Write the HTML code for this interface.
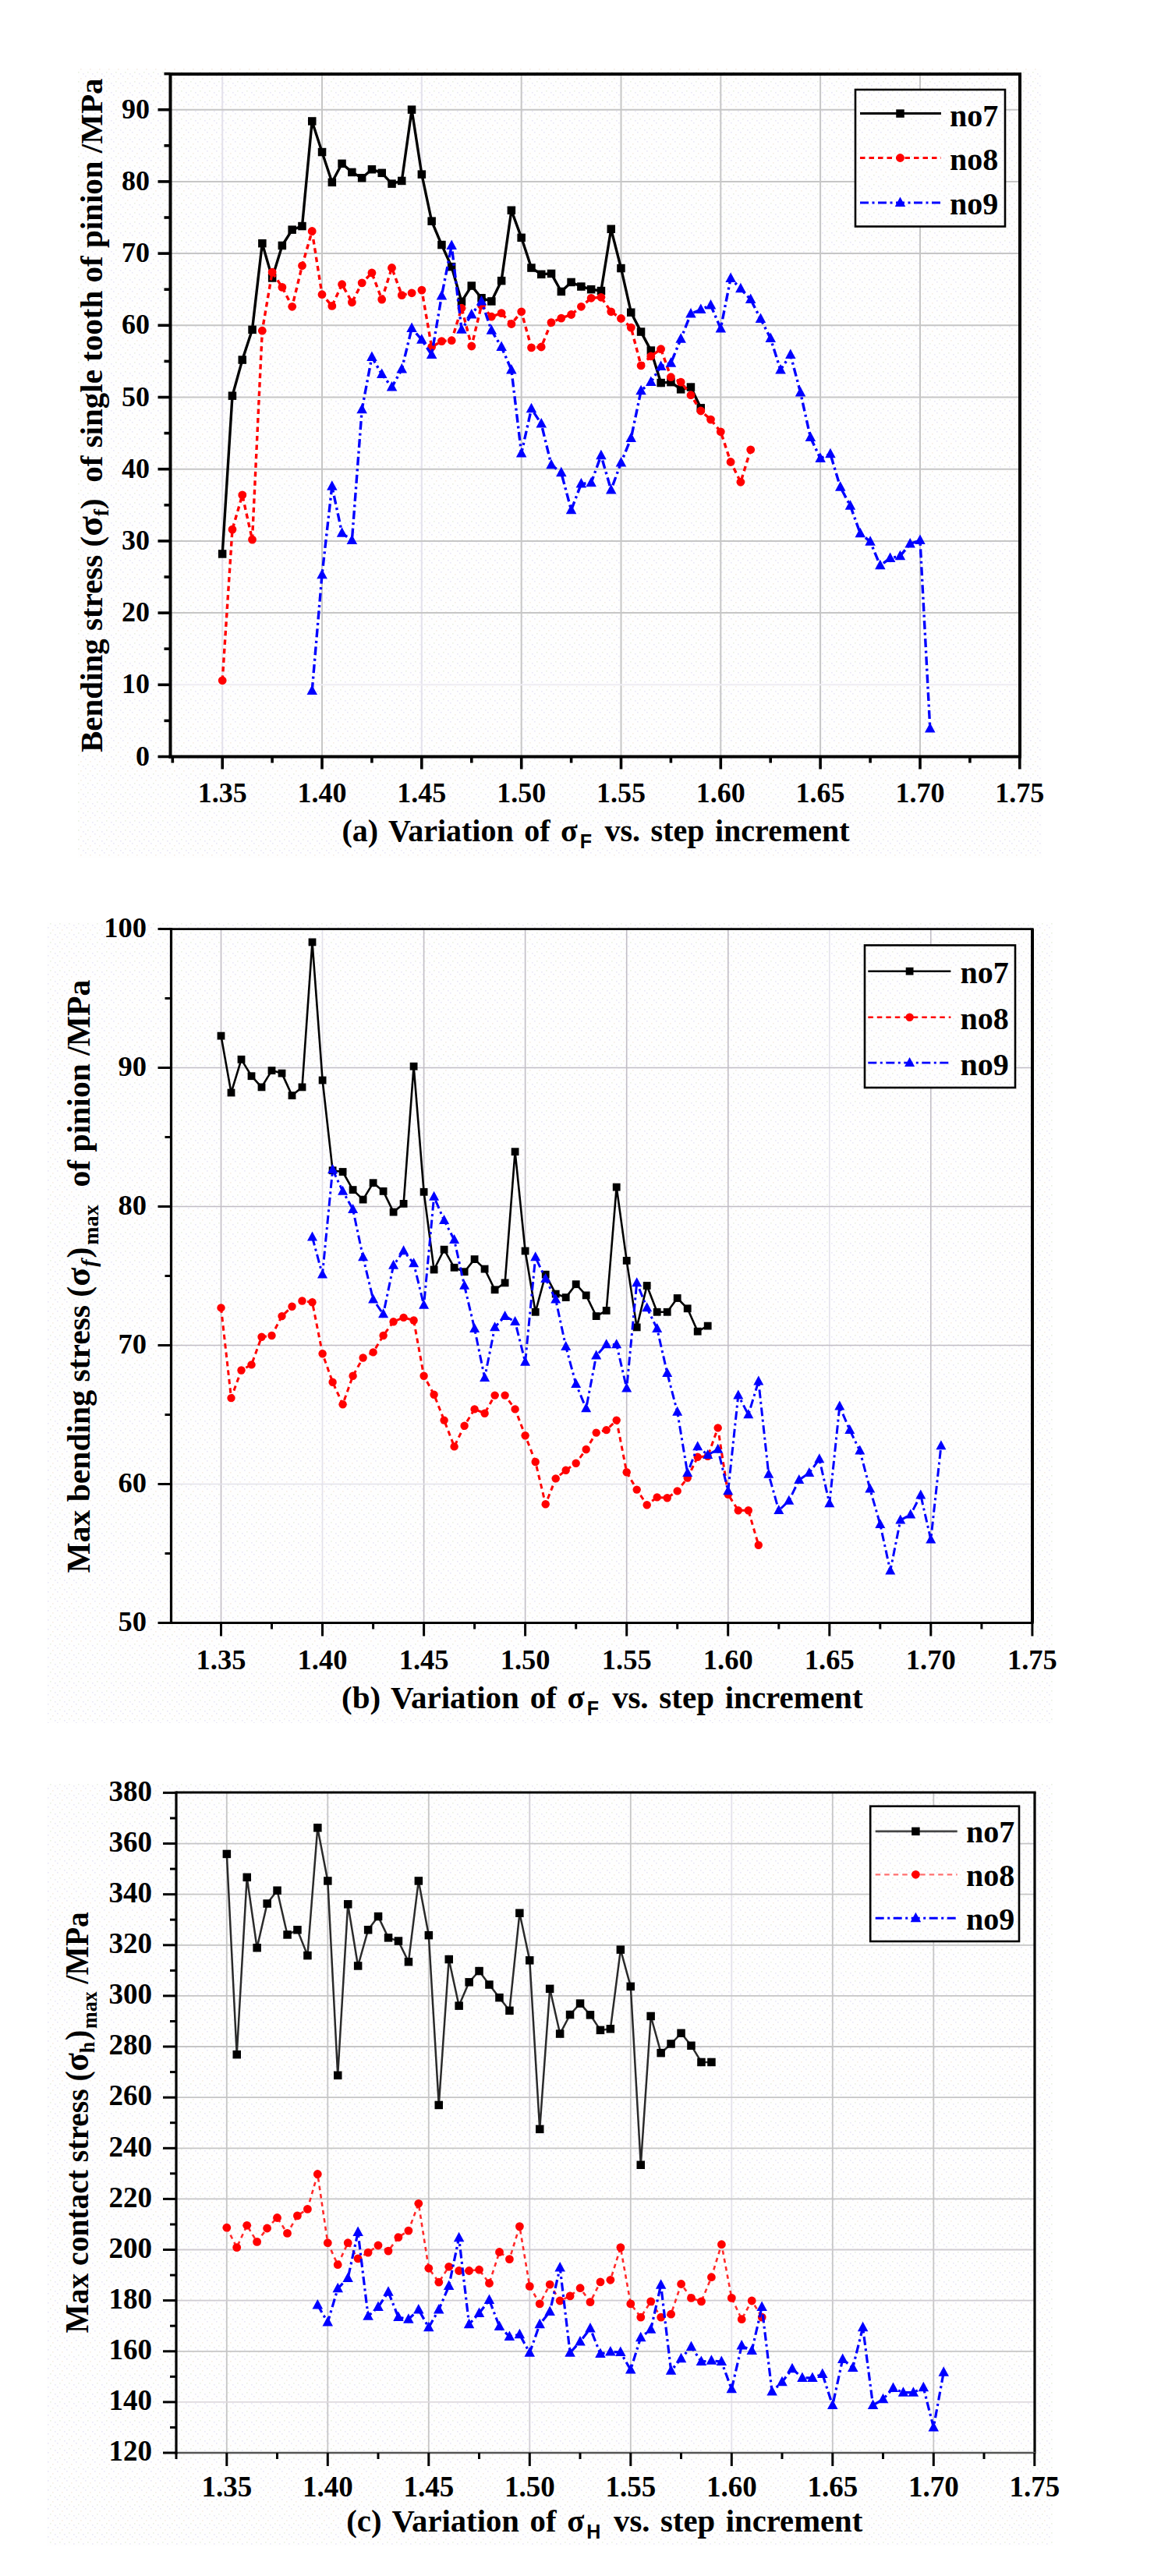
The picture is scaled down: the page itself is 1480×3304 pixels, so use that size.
<!DOCTYPE html>
<html><head><meta charset="utf-8"><title>Variation of stress vs. step increment</title>
<style>html,body{margin:0;padding:0;background:#fff}svg{display:block}text{fill:#000}</style></head>
<body><svg width="1480" height="3304" viewBox="0 0 1480 3304">
<defs><pattern id="dots" width="12" height="12" patternUnits="userSpaceOnUse"><rect width="12" height="12" fill="#fefefe"/><rect x="1" y="1" width="1.6" height="1.6" fill="#eae7f6"/><rect x="7" y="4" width="1.6" height="1.6" fill="#f6ece4"/><rect x="4" y="8" width="1.6" height="1.6" fill="#eaf0e2"/><rect x="10" y="10" width="1.6" height="1.6" fill="#eae7f6"/></pattern></defs>
<rect width="1480" height="3304" fill="#fff"/>
<rect x="100" y="88" width="1236" height="1012" fill="url(#dots)"/>
<line x1="285.2" y1="95" x2="285.2" y2="970.5" stroke="#e4e2ec" stroke-width="2"/>
<line x1="413" y1="95" x2="413" y2="970.5" stroke="#c6c6c6" stroke-width="2"/>
<line x1="540.8" y1="95" x2="540.8" y2="970.5" stroke="#e4e2ec" stroke-width="2"/>
<line x1="668.7" y1="95" x2="668.7" y2="970.5" stroke="#c6c6c6" stroke-width="2"/>
<line x1="796.5" y1="95" x2="796.5" y2="970.5" stroke="#c6c6c6" stroke-width="2"/>
<line x1="924.3" y1="95" x2="924.3" y2="970.5" stroke="#c6c6c6" stroke-width="2"/>
<line x1="1052.1" y1="95" x2="1052.1" y2="970.5" stroke="#c6c6c6" stroke-width="2"/>
<line x1="1180" y1="95" x2="1180" y2="970.5" stroke="#c6c6c6" stroke-width="2"/>
<line x1="218.5" y1="878.3" x2="1308" y2="878.3" stroke="#efedf3" stroke-width="2"/>
<line x1="218.5" y1="786.1" x2="1308" y2="786.1" stroke="#c6c6c6" stroke-width="2"/>
<line x1="218.5" y1="693.9" x2="1308" y2="693.9" stroke="#c6c6c6" stroke-width="2"/>
<line x1="218.5" y1="601.7" x2="1308" y2="601.7" stroke="#c6c6c6" stroke-width="2"/>
<line x1="218.5" y1="509.5" x2="1308" y2="509.5" stroke="#c6c6c6" stroke-width="2"/>
<line x1="218.5" y1="417.3" x2="1308" y2="417.3" stroke="#c6c6c6" stroke-width="2"/>
<line x1="218.5" y1="325.1" x2="1308" y2="325.1" stroke="#c6c6c6" stroke-width="2"/>
<line x1="218.5" y1="232.9" x2="1308" y2="232.9" stroke="#c6c6c6" stroke-width="2"/>
<line x1="218.5" y1="140.7" x2="1308" y2="140.7" stroke="#c6c6c6" stroke-width="2"/>
<polyline fill="none" stroke-linejoin="round" points="285.2,710.5 298,507.7 310.8,461.6 323.5,422.8 336.3,312.2 349.1,356.4 361.9,315 374.7,294.7 387.5,290.1 400.2,155.5 413,195.1 425.8,233.8 438.6,209.8 451.4,220.9 464.2,228.3 476.9,217.2 489.7,221.8 502.5,235.7 515.3,232 528.1,140.7 540.9,223.7 553.6,283.6 566.4,314 579.2,342.2 592,386.9 604.8,366.6 617.5,382.3 630.3,386.4 643.1,360.1 655.9,269.8 668.7,304.8 681.5,343.5 694.2,351.8 707,350.9 719.8,374 732.6,362 745.4,367.5 758.2,371.2 770.9,373 783.7,293.8 796.5,344 809.3,400.7 822.1,425.6 834.8,449.6 847.6,491.1 860.4,490.1 873.2,499.4 886,496.6 898.8,523.3" stroke="#000" stroke-width="3.4"/>
<rect x="279.9" y="705.2" width="10.5" height="10.5" fill="#000"/>
<rect x="292.7" y="502.4" width="10.5" height="10.5" fill="#000"/>
<rect x="305.5" y="456.3" width="10.5" height="10.5" fill="#000"/>
<rect x="318.3" y="417.6" width="10.5" height="10.5" fill="#000"/>
<rect x="331.1" y="306.9" width="10.5" height="10.5" fill="#000"/>
<rect x="343.9" y="351.2" width="10.5" height="10.5" fill="#000"/>
<rect x="356.6" y="309.7" width="10.5" height="10.5" fill="#000"/>
<rect x="369.4" y="289.4" width="10.5" height="10.5" fill="#000"/>
<rect x="382.2" y="284.8" width="10.5" height="10.5" fill="#000"/>
<rect x="395" y="150.2" width="10.5" height="10.5" fill="#000"/>
<rect x="407.8" y="189.8" width="10.5" height="10.5" fill="#000"/>
<rect x="420.6" y="228.6" width="10.5" height="10.5" fill="#000"/>
<rect x="433.3" y="204.6" width="10.5" height="10.5" fill="#000"/>
<rect x="446.1" y="215.7" width="10.5" height="10.5" fill="#000"/>
<rect x="458.9" y="223" width="10.5" height="10.5" fill="#000"/>
<rect x="471.7" y="212" width="10.5" height="10.5" fill="#000"/>
<rect x="484.5" y="216.6" width="10.5" height="10.5" fill="#000"/>
<rect x="497.3" y="230.4" width="10.5" height="10.5" fill="#000"/>
<rect x="510" y="226.7" width="10.5" height="10.5" fill="#000"/>
<rect x="522.8" y="135.4" width="10.5" height="10.5" fill="#000"/>
<rect x="535.6" y="218.4" width="10.5" height="10.5" fill="#000"/>
<rect x="548.4" y="278.4" width="10.5" height="10.5" fill="#000"/>
<rect x="561.2" y="308.8" width="10.5" height="10.5" fill="#000"/>
<rect x="573.9" y="336.9" width="10.5" height="10.5" fill="#000"/>
<rect x="586.7" y="381.6" width="10.5" height="10.5" fill="#000"/>
<rect x="599.5" y="361.3" width="10.5" height="10.5" fill="#000"/>
<rect x="612.3" y="377" width="10.5" height="10.5" fill="#000"/>
<rect x="625.1" y="381.2" width="10.5" height="10.5" fill="#000"/>
<rect x="637.9" y="354.9" width="10.5" height="10.5" fill="#000"/>
<rect x="650.6" y="264.5" width="10.5" height="10.5" fill="#000"/>
<rect x="663.4" y="299.6" width="10.5" height="10.5" fill="#000"/>
<rect x="676.2" y="338.3" width="10.5" height="10.5" fill="#000"/>
<rect x="689" y="346.6" width="10.5" height="10.5" fill="#000"/>
<rect x="701.8" y="345.7" width="10.5" height="10.5" fill="#000"/>
<rect x="714.6" y="368.7" width="10.5" height="10.5" fill="#000"/>
<rect x="727.3" y="356.7" width="10.5" height="10.5" fill="#000"/>
<rect x="740.1" y="362.3" width="10.5" height="10.5" fill="#000"/>
<rect x="752.9" y="365.9" width="10.5" height="10.5" fill="#000"/>
<rect x="765.7" y="367.8" width="10.5" height="10.5" fill="#000"/>
<rect x="778.5" y="288.5" width="10.5" height="10.5" fill="#000"/>
<rect x="791.2" y="338.8" width="10.5" height="10.5" fill="#000"/>
<rect x="804" y="395.5" width="10.5" height="10.5" fill="#000"/>
<rect x="816.8" y="420.3" width="10.5" height="10.5" fill="#000"/>
<rect x="829.6" y="444.3" width="10.5" height="10.5" fill="#000"/>
<rect x="842.4" y="485.8" width="10.5" height="10.5" fill="#000"/>
<rect x="855.2" y="484.9" width="10.5" height="10.5" fill="#000"/>
<rect x="867.9" y="494.1" width="10.5" height="10.5" fill="#000"/>
<rect x="880.7" y="491.3" width="10.5" height="10.5" fill="#000"/>
<rect x="893.5" y="518.1" width="10.5" height="10.5" fill="#000"/>
<polyline fill="none" stroke-linejoin="round" points="285.2,872.8 298,679.1 310.8,634.9 323.5,692.1 336.3,424.2 349.1,349.1 361.9,368.4 374.7,393.3 387.5,340.8 400.2,296.5 413,377.7 425.8,392.4 438.6,364.7 451.4,387.8 464.2,362.9 476.9,350 489.7,384.1 502.5,343.5 515.3,378.6 528.1,375.8 540.9,372.1 553.6,445 566.4,437.6 579.2,436.7 592,395.2 604.8,444 617.5,391.5 630.3,406.2 643.1,401.6 655.9,415.5 668.7,399.8 681.5,445.9 694.2,445 707,413.6 719.8,408.1 732.6,403.5 745.4,393.3 758.2,382.3 770.9,381.3 783.7,399.8 796.5,408.5 809.3,420.1 822.1,468.9 834.8,456.9 847.6,447.7 860.4,483.7 873.2,490.1 886,506.7 898.8,527 911.5,538.1 924.3,553.8 937.1,592.5 949.9,618.3 962.7,576.8" stroke="#f00" stroke-width="3.4" stroke-dasharray="6.5 5"/>
<circle cx="285.2" cy="872.8" r="5.4" fill="#f00"/>
<circle cx="298" cy="679.1" r="5.4" fill="#f00"/>
<circle cx="310.8" cy="634.9" r="5.4" fill="#f00"/>
<circle cx="323.5" cy="692.1" r="5.4" fill="#f00"/>
<circle cx="336.3" cy="424.2" r="5.4" fill="#f00"/>
<circle cx="349.1" cy="349.1" r="5.4" fill="#f00"/>
<circle cx="361.9" cy="368.4" r="5.4" fill="#f00"/>
<circle cx="374.7" cy="393.3" r="5.4" fill="#f00"/>
<circle cx="387.5" cy="340.8" r="5.4" fill="#f00"/>
<circle cx="400.2" cy="296.5" r="5.4" fill="#f00"/>
<circle cx="413" cy="377.7" r="5.4" fill="#f00"/>
<circle cx="425.8" cy="392.4" r="5.4" fill="#f00"/>
<circle cx="438.6" cy="364.7" r="5.4" fill="#f00"/>
<circle cx="451.4" cy="387.8" r="5.4" fill="#f00"/>
<circle cx="464.2" cy="362.9" r="5.4" fill="#f00"/>
<circle cx="476.9" cy="350" r="5.4" fill="#f00"/>
<circle cx="489.7" cy="384.1" r="5.4" fill="#f00"/>
<circle cx="502.5" cy="343.5" r="5.4" fill="#f00"/>
<circle cx="515.3" cy="378.6" r="5.4" fill="#f00"/>
<circle cx="528.1" cy="375.8" r="5.4" fill="#f00"/>
<circle cx="540.9" cy="372.1" r="5.4" fill="#f00"/>
<circle cx="553.6" cy="445" r="5.4" fill="#f00"/>
<circle cx="566.4" cy="437.6" r="5.4" fill="#f00"/>
<circle cx="579.2" cy="436.7" r="5.4" fill="#f00"/>
<circle cx="592" cy="395.2" r="5.4" fill="#f00"/>
<circle cx="604.8" cy="444" r="5.4" fill="#f00"/>
<circle cx="617.5" cy="391.5" r="5.4" fill="#f00"/>
<circle cx="630.3" cy="406.2" r="5.4" fill="#f00"/>
<circle cx="643.1" cy="401.6" r="5.4" fill="#f00"/>
<circle cx="655.9" cy="415.5" r="5.4" fill="#f00"/>
<circle cx="668.7" cy="399.8" r="5.4" fill="#f00"/>
<circle cx="681.5" cy="445.9" r="5.4" fill="#f00"/>
<circle cx="694.2" cy="445" r="5.4" fill="#f00"/>
<circle cx="707" cy="413.6" r="5.4" fill="#f00"/>
<circle cx="719.8" cy="408.1" r="5.4" fill="#f00"/>
<circle cx="732.6" cy="403.5" r="5.4" fill="#f00"/>
<circle cx="745.4" cy="393.3" r="5.4" fill="#f00"/>
<circle cx="758.2" cy="382.3" r="5.4" fill="#f00"/>
<circle cx="770.9" cy="381.3" r="5.4" fill="#f00"/>
<circle cx="783.7" cy="399.8" r="5.4" fill="#f00"/>
<circle cx="796.5" cy="408.5" r="5.4" fill="#f00"/>
<circle cx="809.3" cy="420.1" r="5.4" fill="#f00"/>
<circle cx="822.1" cy="468.9" r="5.4" fill="#f00"/>
<circle cx="834.8" cy="456.9" r="5.4" fill="#f00"/>
<circle cx="847.6" cy="447.7" r="5.4" fill="#f00"/>
<circle cx="860.4" cy="483.7" r="5.4" fill="#f00"/>
<circle cx="873.2" cy="490.1" r="5.4" fill="#f00"/>
<circle cx="886" cy="506.7" r="5.4" fill="#f00"/>
<circle cx="898.8" cy="527" r="5.4" fill="#f00"/>
<circle cx="911.5" cy="538.1" r="5.4" fill="#f00"/>
<circle cx="924.3" cy="553.8" r="5.4" fill="#f00"/>
<circle cx="937.1" cy="592.5" r="5.4" fill="#f00"/>
<circle cx="949.9" cy="618.3" r="5.4" fill="#f00"/>
<circle cx="962.7" cy="576.8" r="5.4" fill="#f00"/>
<polyline fill="none" stroke-linejoin="round" points="400.2,886.1 413,737.2 425.8,623.8 438.6,683.8 451.4,693 464.2,525.2 476.9,457.9 489.7,480 502.5,496.6 515.3,473.5 528.1,421 540.8,435.7 553.6,455.1 566.4,379.5 579.2,315 592,422.8 604.8,403.5 617.5,386.4 630.3,423.8 643.1,445 655.9,474.5 668.7,581.4 681.5,524.3 694.2,543.6 707,596.2 719.8,606.3 732.6,654.3 745.4,620.6 758.2,619.2 770.9,584.2 783.7,628.4 796.5,593.4 809.3,562.1 822.1,501.2 834.8,490.1 847.6,469.9 860.4,465.7 873.2,434.8 886,402.5 898.8,397 911.5,391.5 924.3,421.4 937.1,356.9 949.9,370.3 962.7,384.1 975.5,409 988.2,433.9 1001,474.5 1013.8,455.1 1026.6,503.5 1039.4,561.1 1052.1,587.9 1064.9,582.3 1077.7,624.8 1090.5,648.7 1103.3,684.2 1116.1,694.8 1128.8,725.2 1141.6,716 1154.4,713.3 1167.2,697.6 1180,693 1192.8,934.5" stroke="#00f" stroke-width="3.4" stroke-dasharray="11 4.5 3 4.5"/>
<path d="M393.5,891.1L407,891.1L400.2,878.6Z" fill="#00f"/>
<path d="M406.3,742.2L419.8,742.2L413,729.7Z" fill="#00f"/>
<path d="M419.1,628.8L432.6,628.8L425.8,616.3Z" fill="#00f"/>
<path d="M431.8,688.8L445.3,688.8L438.6,676.3Z" fill="#00f"/>
<path d="M444.6,698L458.1,698L451.4,685.5Z" fill="#00f"/>
<path d="M457.4,530.2L470.9,530.2L464.2,517.7Z" fill="#00f"/>
<path d="M470.2,462.9L483.7,462.9L476.9,450.4Z" fill="#00f"/>
<path d="M483,485L496.5,485L489.7,472.5Z" fill="#00f"/>
<path d="M495.8,501.6L509.3,501.6L502.5,489.1Z" fill="#00f"/>
<path d="M508.5,478.5L522,478.5L515.3,466Z" fill="#00f"/>
<path d="M521.3,426L534.8,426L528.1,413.5Z" fill="#00f"/>
<path d="M534.1,440.7L547.6,440.7L540.8,428.2Z" fill="#00f"/>
<path d="M546.9,460.1L560.4,460.1L553.6,447.6Z" fill="#00f"/>
<path d="M559.7,384.5L573.2,384.5L566.4,372Z" fill="#00f"/>
<path d="M572.4,320L585.9,320L579.2,307.5Z" fill="#00f"/>
<path d="M585.2,427.8L598.7,427.8L592,415.3Z" fill="#00f"/>
<path d="M598,408.5L611.5,408.5L604.8,396Z" fill="#00f"/>
<path d="M610.8,391.4L624.3,391.4L617.5,378.9Z" fill="#00f"/>
<path d="M623.6,428.8L637.1,428.8L630.3,416.3Z" fill="#00f"/>
<path d="M636.4,450L649.9,450L643.1,437.5Z" fill="#00f"/>
<path d="M649.1,479.5L662.6,479.5L655.9,467Z" fill="#00f"/>
<path d="M661.9,586.4L675.4,586.4L668.7,573.9Z" fill="#00f"/>
<path d="M674.7,529.3L688.2,529.3L681.5,516.8Z" fill="#00f"/>
<path d="M687.5,548.6L701,548.6L694.2,536.1Z" fill="#00f"/>
<path d="M700.3,601.2L713.8,601.2L707,588.7Z" fill="#00f"/>
<path d="M713.1,611.3L726.6,611.3L719.8,598.8Z" fill="#00f"/>
<path d="M725.8,659.3L739.3,659.3L732.6,646.8Z" fill="#00f"/>
<path d="M738.6,625.6L752.1,625.6L745.4,613.1Z" fill="#00f"/>
<path d="M751.4,624.2L764.9,624.2L758.2,611.7Z" fill="#00f"/>
<path d="M764.2,589.2L777.7,589.2L770.9,576.7Z" fill="#00f"/>
<path d="M777,633.4L790.5,633.4L783.7,620.9Z" fill="#00f"/>
<path d="M789.7,598.4L803.2,598.4L796.5,585.9Z" fill="#00f"/>
<path d="M802.5,567.1L816,567.1L809.3,554.6Z" fill="#00f"/>
<path d="M815.3,506.2L828.8,506.2L822.1,493.7Z" fill="#00f"/>
<path d="M828.1,495.1L841.6,495.1L834.8,482.6Z" fill="#00f"/>
<path d="M840.9,474.9L854.4,474.9L847.6,462.4Z" fill="#00f"/>
<path d="M853.7,470.7L867.2,470.7L860.4,458.2Z" fill="#00f"/>
<path d="M866.4,439.8L879.9,439.8L873.2,427.3Z" fill="#00f"/>
<path d="M879.2,407.5L892.7,407.5L886,395Z" fill="#00f"/>
<path d="M892,402L905.5,402L898.8,389.5Z" fill="#00f"/>
<path d="M904.8,396.5L918.3,396.5L911.5,384Z" fill="#00f"/>
<path d="M917.6,426.4L931.1,426.4L924.3,413.9Z" fill="#00f"/>
<path d="M930.4,361.9L943.9,361.9L937.1,349.4Z" fill="#00f"/>
<path d="M943.1,375.3L956.6,375.3L949.9,362.8Z" fill="#00f"/>
<path d="M955.9,389.1L969.4,389.1L962.7,376.6Z" fill="#00f"/>
<path d="M968.7,414L982.2,414L975.5,401.5Z" fill="#00f"/>
<path d="M981.5,438.9L995,438.9L988.2,426.4Z" fill="#00f"/>
<path d="M994.3,479.5L1007.8,479.5L1001,467Z" fill="#00f"/>
<path d="M1007.1,460.1L1020.6,460.1L1013.8,447.6Z" fill="#00f"/>
<path d="M1019.8,508.5L1033.3,508.5L1026.6,496Z" fill="#00f"/>
<path d="M1032.6,566.1L1046.1,566.1L1039.4,553.6Z" fill="#00f"/>
<path d="M1045.4,592.9L1058.9,592.9L1052.1,580.4Z" fill="#00f"/>
<path d="M1058.2,587.3L1071.7,587.3L1064.9,574.8Z" fill="#00f"/>
<path d="M1071,629.8L1084.5,629.8L1077.7,617.2Z" fill="#00f"/>
<path d="M1083.7,653.7L1097.2,653.7L1090.5,641.2Z" fill="#00f"/>
<path d="M1096.5,689.2L1110,689.2L1103.3,676.7Z" fill="#00f"/>
<path d="M1109.3,699.8L1122.8,699.8L1116.1,687.3Z" fill="#00f"/>
<path d="M1122.1,730.2L1135.6,730.2L1128.8,717.7Z" fill="#00f"/>
<path d="M1134.9,721L1148.4,721L1141.6,708.5Z" fill="#00f"/>
<path d="M1147.7,718.3L1161.2,718.3L1154.4,705.8Z" fill="#00f"/>
<path d="M1160.4,702.6L1173.9,702.6L1167.2,690.1Z" fill="#00f"/>
<path d="M1173.2,698L1186.7,698L1180,685.5Z" fill="#00f"/>
<path d="M1186,939.5L1199.5,939.5L1192.8,927Z" fill="#00f"/>
<line x1="218.5" y1="95" x2="1310.0" y2="95" stroke="#000" stroke-width="4"/>
<line x1="1308" y1="95" x2="1308" y2="970.5" stroke="#000" stroke-width="4"/>
<line x1="216.5" y1="970.5" x2="1310.0" y2="970.5" stroke="#000" stroke-width="4"/>
<line x1="218.5" y1="93.0" x2="218.5" y2="972.5" stroke="#000" stroke-width="4"/>
<line x1="221.3" y1="970.5" x2="221.3" y2="978.5" stroke="#000" stroke-width="3.6"/>
<line x1="285.2" y1="970.5" x2="285.2" y2="986.5" stroke="#000" stroke-width="3.6"/>
<text x="285.2" y="1029" font-size="36" text-anchor="middle" font-family="Liberation Serif, serif" font-weight="bold">1.35</text>
<line x1="349.1" y1="970.5" x2="349.1" y2="978.5" stroke="#000" stroke-width="3.6"/>
<line x1="413" y1="970.5" x2="413" y2="986.5" stroke="#000" stroke-width="3.6"/>
<text x="413" y="1029" font-size="36" text-anchor="middle" font-family="Liberation Serif, serif" font-weight="bold">1.40</text>
<line x1="476.9" y1="970.5" x2="476.9" y2="978.5" stroke="#000" stroke-width="3.6"/>
<line x1="540.8" y1="970.5" x2="540.8" y2="986.5" stroke="#000" stroke-width="3.6"/>
<text x="540.8" y="1029" font-size="36" text-anchor="middle" font-family="Liberation Serif, serif" font-weight="bold">1.45</text>
<line x1="604.8" y1="970.5" x2="604.8" y2="978.5" stroke="#000" stroke-width="3.6"/>
<line x1="668.7" y1="970.5" x2="668.7" y2="986.5" stroke="#000" stroke-width="3.6"/>
<text x="668.7" y="1029" font-size="36" text-anchor="middle" font-family="Liberation Serif, serif" font-weight="bold">1.50</text>
<line x1="732.6" y1="970.5" x2="732.6" y2="978.5" stroke="#000" stroke-width="3.6"/>
<line x1="796.5" y1="970.5" x2="796.5" y2="986.5" stroke="#000" stroke-width="3.6"/>
<text x="796.5" y="1029" font-size="36" text-anchor="middle" font-family="Liberation Serif, serif" font-weight="bold">1.55</text>
<line x1="860.4" y1="970.5" x2="860.4" y2="978.5" stroke="#000" stroke-width="3.6"/>
<line x1="924.3" y1="970.5" x2="924.3" y2="986.5" stroke="#000" stroke-width="3.6"/>
<text x="924.3" y="1029" font-size="36" text-anchor="middle" font-family="Liberation Serif, serif" font-weight="bold">1.60</text>
<line x1="988.2" y1="970.5" x2="988.2" y2="978.5" stroke="#000" stroke-width="3.6"/>
<line x1="1052.1" y1="970.5" x2="1052.1" y2="986.5" stroke="#000" stroke-width="3.6"/>
<text x="1052.1" y="1029" font-size="36" text-anchor="middle" font-family="Liberation Serif, serif" font-weight="bold">1.65</text>
<line x1="1116.1" y1="970.5" x2="1116.1" y2="978.5" stroke="#000" stroke-width="3.6"/>
<line x1="1180" y1="970.5" x2="1180" y2="986.5" stroke="#000" stroke-width="3.6"/>
<text x="1180" y="1029" font-size="36" text-anchor="middle" font-family="Liberation Serif, serif" font-weight="bold">1.70</text>
<line x1="1243.9" y1="970.5" x2="1243.9" y2="978.5" stroke="#000" stroke-width="3.6"/>
<line x1="1307.8" y1="970.5" x2="1307.8" y2="986.5" stroke="#000" stroke-width="3.6"/>
<text x="1307.8" y="1029" font-size="36" text-anchor="middle" font-family="Liberation Serif, serif" font-weight="bold">1.75</text>
<line x1="202.5" y1="970.5" x2="218.5" y2="970.5" stroke="#000" stroke-width="3.6"/>
<text x="192" y="981.5" font-size="36" text-anchor="end" font-family="Liberation Serif, serif" font-weight="bold">0</text>
<line x1="210.5" y1="924.4" x2="218.5" y2="924.4" stroke="#000" stroke-width="3.6"/>
<line x1="202.5" y1="878.3" x2="218.5" y2="878.3" stroke="#000" stroke-width="3.6"/>
<text x="192" y="889.3" font-size="36" text-anchor="end" font-family="Liberation Serif, serif" font-weight="bold">10</text>
<line x1="210.5" y1="832.2" x2="218.5" y2="832.2" stroke="#000" stroke-width="3.6"/>
<line x1="202.5" y1="786.1" x2="218.5" y2="786.1" stroke="#000" stroke-width="3.6"/>
<text x="192" y="797.1" font-size="36" text-anchor="end" font-family="Liberation Serif, serif" font-weight="bold">20</text>
<line x1="210.5" y1="740" x2="218.5" y2="740" stroke="#000" stroke-width="3.6"/>
<line x1="202.5" y1="693.9" x2="218.5" y2="693.9" stroke="#000" stroke-width="3.6"/>
<text x="192" y="704.9" font-size="36" text-anchor="end" font-family="Liberation Serif, serif" font-weight="bold">30</text>
<line x1="210.5" y1="647.8" x2="218.5" y2="647.8" stroke="#000" stroke-width="3.6"/>
<line x1="202.5" y1="601.7" x2="218.5" y2="601.7" stroke="#000" stroke-width="3.6"/>
<text x="192" y="612.7" font-size="36" text-anchor="end" font-family="Liberation Serif, serif" font-weight="bold">40</text>
<line x1="210.5" y1="555.6" x2="218.5" y2="555.6" stroke="#000" stroke-width="3.6"/>
<line x1="202.5" y1="509.5" x2="218.5" y2="509.5" stroke="#000" stroke-width="3.6"/>
<text x="192" y="520.5" font-size="36" text-anchor="end" font-family="Liberation Serif, serif" font-weight="bold">50</text>
<line x1="210.5" y1="463.4" x2="218.5" y2="463.4" stroke="#000" stroke-width="3.6"/>
<line x1="202.5" y1="417.3" x2="218.5" y2="417.3" stroke="#000" stroke-width="3.6"/>
<text x="192" y="428.3" font-size="36" text-anchor="end" font-family="Liberation Serif, serif" font-weight="bold">60</text>
<line x1="210.5" y1="371.2" x2="218.5" y2="371.2" stroke="#000" stroke-width="3.6"/>
<line x1="202.5" y1="325.1" x2="218.5" y2="325.1" stroke="#000" stroke-width="3.6"/>
<text x="192" y="336.1" font-size="36" text-anchor="end" font-family="Liberation Serif, serif" font-weight="bold">70</text>
<line x1="210.5" y1="279" x2="218.5" y2="279" stroke="#000" stroke-width="3.6"/>
<line x1="202.5" y1="232.9" x2="218.5" y2="232.9" stroke="#000" stroke-width="3.6"/>
<text x="192" y="243.9" font-size="36" text-anchor="end" font-family="Liberation Serif, serif" font-weight="bold">80</text>
<line x1="210.5" y1="186.8" x2="218.5" y2="186.8" stroke="#000" stroke-width="3.6"/>
<line x1="202.5" y1="140.7" x2="218.5" y2="140.7" stroke="#000" stroke-width="3.6"/>
<text x="192" y="151.7" font-size="36" text-anchor="end" font-family="Liberation Serif, serif" font-weight="bold">90</text>
<line x1="210.5" y1="94.6" x2="218.5" y2="94.6" stroke="#000" stroke-width="3.6"/>
<rect x="1097" y="115" width="192" height="175.5" fill="#fff" stroke="none"/>
<rect x="1097" y="115" width="192" height="175.5" fill="url(#dots)" stroke="#000" stroke-width="2.6"/>
<line x1="1103" y1="145.6" x2="1207" y2="145.6" fill="none" stroke="#000" stroke-width="3"/>
<rect x="1149.25" y="140.35" width="10.5" height="10.5" fill="#000"/>
<text x="1218" y="162.3" font-size="40" font-family="Liberation Serif, serif" font-weight="bold">no7</text>
<line x1="1103" y1="202.5" x2="1207" y2="202.5" fill="none" stroke="#f00" stroke-width="3" stroke-dasharray="6.5 5"/>
<circle cx="1154.5" cy="202.5" r="5.4" fill="#f00"/>
<text x="1218" y="218" font-size="40" font-family="Liberation Serif, serif" font-weight="bold">no8</text>
<line x1="1103" y1="260" x2="1207" y2="260" fill="none" stroke="#00f" stroke-width="3" stroke-dasharray="11 4.5 3 4.5"/>
<path d="M1147.75,265.0L1161.25,265.0L1154.5,252.5Z" fill="#00f"/>
<text x="1218" y="275" font-size="40" font-family="Liberation Serif, serif" font-weight="bold">no9</text>
<text transform="translate(131,965) rotate(-90) scale(1,1)" font-size="41" font-family="Liberation Serif, serif" font-weight="bold" id="ayl" xml:space="preserve">Bending stress (<tspan font-size="47">σ</tspan><tspan font-size="28" dy="8">f</tspan><tspan dy="-8">)  of single tooth of pinion /MPa</tspan></text>
<text x="438.5" y="1078.6" font-size="40" font-family="Liberation Serif, serif" font-weight="bold" id="acap" word-spacing="3.5">(a) Variation of σ<tspan font-size="25" dy="9" dx="3" font-family="Liberation Sans, sans-serif">F</tspan><tspan dy="-9" dx="3"> vs. step increment</tspan></text>
<rect x="60" y="1182" width="1290" height="1028" fill="url(#dots)"/>
<line x1="283.5" y1="1191.6" x2="283.5" y2="2081.5" stroke="#c2bec6" stroke-width="1.6"/>
<line x1="413.5" y1="1191.6" x2="413.5" y2="2081.5" stroke="#e4e2ec" stroke-width="1.6"/>
<line x1="543.6" y1="1191.6" x2="543.6" y2="2081.5" stroke="#c2bec6" stroke-width="1.6"/>
<line x1="673.6" y1="1191.6" x2="673.6" y2="2081.5" stroke="#c2bec6" stroke-width="1.6"/>
<line x1="803.7" y1="1191.6" x2="803.7" y2="2081.5" stroke="#c2bec6" stroke-width="1.6"/>
<line x1="933.8" y1="1191.6" x2="933.8" y2="2081.5" stroke="#c2bec6" stroke-width="1.6"/>
<line x1="1063.8" y1="1191.6" x2="1063.8" y2="2081.5" stroke="#e4e2ec" stroke-width="1.6"/>
<line x1="1193.8" y1="1191.6" x2="1193.8" y2="2081.5" stroke="#c2bec6" stroke-width="1.6"/>
<line x1="219.5" y1="1903.5" x2="1324" y2="1903.5" stroke="#e4e2ec" stroke-width="1.6"/>
<line x1="219.5" y1="1725.5" x2="1324" y2="1725.5" stroke="#c2bec6" stroke-width="1.6"/>
<line x1="219.5" y1="1547.5" x2="1324" y2="1547.5" stroke="#c2bec6" stroke-width="1.6"/>
<line x1="219.5" y1="1369.5" x2="1324" y2="1369.5" stroke="#c2bec6" stroke-width="1.6"/>
<polyline fill="none" stroke-linejoin="round" points="283.5,1328.6 296.5,1401.5 309.5,1358.8 322.5,1380.2 335.5,1394.4 348.5,1373.1 361.5,1376.6 374.5,1405.1 387.5,1394.4 400.5,1208.4 413.6,1385.5 426.6,1501.2 439.6,1503 452.6,1526.1 465.6,1538.6 478.6,1517.2 491.6,1527.9 504.6,1554.6 517.6,1543.9 530.6,1367.7 543.6,1528.8 556.6,1628.5 569.6,1602.7 582.6,1625.8 595.6,1631.2 608.6,1615.1 621.6,1627.6 634.6,1654.3 647.6,1645.4 660.6,1477.2 673.6,1604.5 686.7,1682.8 699.7,1634.7 712.7,1659.6 725.7,1664.1 738.7,1647.2 751.7,1661.4 764.7,1688.1 777.7,1681 790.7,1522.6 803.7,1616.9 816.7,1702.4 829.7,1649 842.7,1682.8 855.7,1682.8 868.7,1665 881.7,1678.3 894.7,1707.7 907.7,1700.6" stroke="#000" stroke-width="2.6"/>
<rect x="278.6" y="1323.7" width="9.8" height="9.8" fill="#000"/>
<rect x="291.6" y="1396.6" width="9.8" height="9.8" fill="#000"/>
<rect x="304.6" y="1353.9" width="9.8" height="9.8" fill="#000"/>
<rect x="317.6" y="1375.3" width="9.8" height="9.8" fill="#000"/>
<rect x="330.6" y="1389.5" width="9.8" height="9.8" fill="#000"/>
<rect x="343.6" y="1368.2" width="9.8" height="9.8" fill="#000"/>
<rect x="356.6" y="1371.7" width="9.8" height="9.8" fill="#000"/>
<rect x="369.6" y="1400.2" width="9.8" height="9.8" fill="#000"/>
<rect x="382.6" y="1389.5" width="9.8" height="9.8" fill="#000"/>
<rect x="395.6" y="1203.5" width="9.8" height="9.8" fill="#000"/>
<rect x="408.7" y="1380.6" width="9.8" height="9.8" fill="#000"/>
<rect x="421.7" y="1496.3" width="9.8" height="9.8" fill="#000"/>
<rect x="434.7" y="1498.1" width="9.8" height="9.8" fill="#000"/>
<rect x="447.7" y="1521.2" width="9.8" height="9.8" fill="#000"/>
<rect x="460.7" y="1533.7" width="9.8" height="9.8" fill="#000"/>
<rect x="473.7" y="1512.3" width="9.8" height="9.8" fill="#000"/>
<rect x="486.7" y="1523" width="9.8" height="9.8" fill="#000"/>
<rect x="499.7" y="1549.7" width="9.8" height="9.8" fill="#000"/>
<rect x="512.7" y="1539" width="9.8" height="9.8" fill="#000"/>
<rect x="525.7" y="1362.8" width="9.8" height="9.8" fill="#000"/>
<rect x="538.7" y="1523.9" width="9.8" height="9.8" fill="#000"/>
<rect x="551.7" y="1623.6" width="9.8" height="9.8" fill="#000"/>
<rect x="564.7" y="1597.8" width="9.8" height="9.8" fill="#000"/>
<rect x="577.7" y="1620.9" width="9.8" height="9.8" fill="#000"/>
<rect x="590.7" y="1626.3" width="9.8" height="9.8" fill="#000"/>
<rect x="603.7" y="1610.2" width="9.8" height="9.8" fill="#000"/>
<rect x="616.7" y="1622.7" width="9.8" height="9.8" fill="#000"/>
<rect x="629.7" y="1649.4" width="9.8" height="9.8" fill="#000"/>
<rect x="642.7" y="1640.5" width="9.8" height="9.8" fill="#000"/>
<rect x="655.7" y="1472.3" width="9.8" height="9.8" fill="#000"/>
<rect x="668.7" y="1599.6" width="9.8" height="9.8" fill="#000"/>
<rect x="681.8" y="1677.9" width="9.8" height="9.8" fill="#000"/>
<rect x="694.8" y="1629.8" width="9.8" height="9.8" fill="#000"/>
<rect x="707.8" y="1654.7" width="9.8" height="9.8" fill="#000"/>
<rect x="720.8" y="1659.2" width="9.8" height="9.8" fill="#000"/>
<rect x="733.8" y="1642.3" width="9.8" height="9.8" fill="#000"/>
<rect x="746.8" y="1656.5" width="9.8" height="9.8" fill="#000"/>
<rect x="759.8" y="1683.2" width="9.8" height="9.8" fill="#000"/>
<rect x="772.8" y="1676.1" width="9.8" height="9.8" fill="#000"/>
<rect x="785.8" y="1517.7" width="9.8" height="9.8" fill="#000"/>
<rect x="798.8" y="1612" width="9.8" height="9.8" fill="#000"/>
<rect x="811.8" y="1697.5" width="9.8" height="9.8" fill="#000"/>
<rect x="824.8" y="1644.1" width="9.8" height="9.8" fill="#000"/>
<rect x="837.8" y="1677.9" width="9.8" height="9.8" fill="#000"/>
<rect x="850.8" y="1677.9" width="9.8" height="9.8" fill="#000"/>
<rect x="863.8" y="1660.1" width="9.8" height="9.8" fill="#000"/>
<rect x="876.8" y="1673.4" width="9.8" height="9.8" fill="#000"/>
<rect x="889.8" y="1702.8" width="9.8" height="9.8" fill="#000"/>
<rect x="902.8" y="1695.7" width="9.8" height="9.8" fill="#000"/>
<polyline fill="none" stroke-linejoin="round" points="283.5,1677.4 296.5,1793.1 309.5,1757.5 322.5,1750.4 335.5,1714.8 348.5,1713 361.5,1688.1 374.5,1675.7 387.5,1668.5 400.5,1670.3 413.6,1736.2 426.6,1772.7 439.6,1801.2 452.6,1764.7 465.6,1741.5 478.6,1734.4 491.6,1713 504.6,1695.2 517.6,1689.9 530.6,1693.5 543.6,1764.7 556.6,1788.7 569.6,1821.6 582.6,1855.4 595.6,1828.7 608.6,1807.4 621.6,1812.7 634.6,1789.6 647.6,1789.6 660.6,1807.4 673.6,1841.2 686.7,1875 699.7,1929.3 712.7,1896.4 725.7,1885.7 738.7,1876.8 751.7,1859 764.7,1837.6 777.7,1834.1 790.7,1821.6 803.7,1888.2 816.7,1910.6 829.7,1930.2 842.7,1920.4 855.7,1921.3 868.7,1912.4 881.7,1895.5 894.7,1868.8 907.7,1867.9 920.7,1831.4 933.8,1916.8 946.8,1937.3 959.8,1937.3 972.8,1981.8" stroke="#f00" stroke-width="3" stroke-dasharray="6.5 5"/>
<circle cx="283.5" cy="1677.4" r="5.2" fill="#f00"/>
<circle cx="296.5" cy="1793.1" r="5.2" fill="#f00"/>
<circle cx="309.5" cy="1757.5" r="5.2" fill="#f00"/>
<circle cx="322.5" cy="1750.4" r="5.2" fill="#f00"/>
<circle cx="335.5" cy="1714.8" r="5.2" fill="#f00"/>
<circle cx="348.5" cy="1713" r="5.2" fill="#f00"/>
<circle cx="361.5" cy="1688.1" r="5.2" fill="#f00"/>
<circle cx="374.5" cy="1675.7" r="5.2" fill="#f00"/>
<circle cx="387.5" cy="1668.5" r="5.2" fill="#f00"/>
<circle cx="400.5" cy="1670.3" r="5.2" fill="#f00"/>
<circle cx="413.6" cy="1736.2" r="5.2" fill="#f00"/>
<circle cx="426.6" cy="1772.7" r="5.2" fill="#f00"/>
<circle cx="439.6" cy="1801.2" r="5.2" fill="#f00"/>
<circle cx="452.6" cy="1764.7" r="5.2" fill="#f00"/>
<circle cx="465.6" cy="1741.5" r="5.2" fill="#f00"/>
<circle cx="478.6" cy="1734.4" r="5.2" fill="#f00"/>
<circle cx="491.6" cy="1713" r="5.2" fill="#f00"/>
<circle cx="504.6" cy="1695.2" r="5.2" fill="#f00"/>
<circle cx="517.6" cy="1689.9" r="5.2" fill="#f00"/>
<circle cx="530.6" cy="1693.5" r="5.2" fill="#f00"/>
<circle cx="543.6" cy="1764.7" r="5.2" fill="#f00"/>
<circle cx="556.6" cy="1788.7" r="5.2" fill="#f00"/>
<circle cx="569.6" cy="1821.6" r="5.2" fill="#f00"/>
<circle cx="582.6" cy="1855.4" r="5.2" fill="#f00"/>
<circle cx="595.6" cy="1828.7" r="5.2" fill="#f00"/>
<circle cx="608.6" cy="1807.4" r="5.2" fill="#f00"/>
<circle cx="621.6" cy="1812.7" r="5.2" fill="#f00"/>
<circle cx="634.6" cy="1789.6" r="5.2" fill="#f00"/>
<circle cx="647.6" cy="1789.6" r="5.2" fill="#f00"/>
<circle cx="660.6" cy="1807.4" r="5.2" fill="#f00"/>
<circle cx="673.6" cy="1841.2" r="5.2" fill="#f00"/>
<circle cx="686.7" cy="1875" r="5.2" fill="#f00"/>
<circle cx="699.7" cy="1929.3" r="5.2" fill="#f00"/>
<circle cx="712.7" cy="1896.4" r="5.2" fill="#f00"/>
<circle cx="725.7" cy="1885.7" r="5.2" fill="#f00"/>
<circle cx="738.7" cy="1876.8" r="5.2" fill="#f00"/>
<circle cx="751.7" cy="1859" r="5.2" fill="#f00"/>
<circle cx="764.7" cy="1837.6" r="5.2" fill="#f00"/>
<circle cx="777.7" cy="1834.1" r="5.2" fill="#f00"/>
<circle cx="790.7" cy="1821.6" r="5.2" fill="#f00"/>
<circle cx="803.7" cy="1888.2" r="5.2" fill="#f00"/>
<circle cx="816.7" cy="1910.6" r="5.2" fill="#f00"/>
<circle cx="829.7" cy="1930.2" r="5.2" fill="#f00"/>
<circle cx="842.7" cy="1920.4" r="5.2" fill="#f00"/>
<circle cx="855.7" cy="1921.3" r="5.2" fill="#f00"/>
<circle cx="868.7" cy="1912.4" r="5.2" fill="#f00"/>
<circle cx="881.7" cy="1895.5" r="5.2" fill="#f00"/>
<circle cx="894.7" cy="1868.8" r="5.2" fill="#f00"/>
<circle cx="907.7" cy="1867.9" r="5.2" fill="#f00"/>
<circle cx="920.7" cy="1831.4" r="5.2" fill="#f00"/>
<circle cx="933.8" cy="1916.8" r="5.2" fill="#f00"/>
<circle cx="946.8" cy="1937.3" r="5.2" fill="#f00"/>
<circle cx="959.8" cy="1937.3" r="5.2" fill="#f00"/>
<circle cx="972.8" cy="1981.8" r="5.2" fill="#f00"/>
<polyline fill="none" stroke-linejoin="round" points="400.5,1586.7 413.5,1634.7 426.6,1500.3 439.6,1527.9 452.6,1551.1 465.6,1612.5 478.6,1666.8 491.6,1685.5 504.6,1623 517.6,1604.5 530.6,1620.5 543.6,1673.9 556.6,1535 569.6,1565.3 582.6,1590.2 595.6,1649 608.6,1704.1 621.6,1767.3 634.6,1702.4 647.6,1688.1 660.6,1695.2 673.6,1746.9 686.7,1612.5 699.7,1640.1 712.7,1666.8 725.7,1727.3 738.7,1775.3 751.7,1806.5 764.7,1738.8 777.7,1724.4 790.7,1724.4 803.7,1780.7 816.7,1645.4 829.7,1677.4 842.7,1704.1 855.7,1761.1 868.7,1810.9 881.7,1889.3 894.7,1855.4 907.7,1866.1 920.7,1859 933.8,1912.4 946.8,1789.6 959.8,1814.5 972.8,1771.8 985.8,1891 998.8,1937.3 1011.8,1924.9 1024.8,1898.2 1037.8,1889.3 1050.8,1871.5 1063.8,1928.4 1076.8,1803.8 1089.8,1834.1 1102.8,1860.8 1115.8,1909.7 1128.8,1955.1 1141.8,2014.8 1154.8,1949.8 1167.8,1942.7 1180.8,1917.7 1193.8,1974.7 1206.9,1854.5" stroke="#00f" stroke-width="3" stroke-dasharray="11 4.5 3 4.5"/>
<path d="M394,1591.5L407,1591.5L400.5,1579.5Z" fill="#00f"/>
<path d="M407,1639.5L420,1639.5L413.5,1627.5Z" fill="#00f"/>
<path d="M420.1,1505.1L433.1,1505.1L426.6,1493.1Z" fill="#00f"/>
<path d="M433.1,1532.7L446.1,1532.7L439.6,1520.7Z" fill="#00f"/>
<path d="M446.1,1555.9L459.1,1555.9L452.6,1543.9Z" fill="#00f"/>
<path d="M459.1,1617.3L472.1,1617.3L465.6,1605.3Z" fill="#00f"/>
<path d="M472.1,1671.6L485.1,1671.6L478.6,1659.6Z" fill="#00f"/>
<path d="M485.1,1690.2L498.1,1690.2L491.6,1678.2Z" fill="#00f"/>
<path d="M498.1,1627.8L511.1,1627.8L504.6,1615.8Z" fill="#00f"/>
<path d="M511.1,1609.3L524.1,1609.3L517.6,1597.3Z" fill="#00f"/>
<path d="M524.1,1625.3L537.1,1625.3L530.6,1613.3Z" fill="#00f"/>
<path d="M537.1,1678.7L550.1,1678.7L543.6,1666.7Z" fill="#00f"/>
<path d="M550.1,1539.8L563.1,1539.8L556.6,1527.8Z" fill="#00f"/>
<path d="M563.1,1570.1L576.1,1570.1L569.6,1558.1Z" fill="#00f"/>
<path d="M576.1,1595L589.1,1595L582.6,1583Z" fill="#00f"/>
<path d="M589.1,1653.8L602.1,1653.8L595.6,1641.8Z" fill="#00f"/>
<path d="M602.1,1708.9L615.1,1708.9L608.6,1696.9Z" fill="#00f"/>
<path d="M615.1,1772.1L628.1,1772.1L621.6,1760.1Z" fill="#00f"/>
<path d="M628.1,1707.2L641.1,1707.2L634.6,1695.2Z" fill="#00f"/>
<path d="M641.1,1692.9L654.1,1692.9L647.6,1680.9Z" fill="#00f"/>
<path d="M654.1,1700L667.1,1700L660.6,1688Z" fill="#00f"/>
<path d="M667.1,1751.7L680.1,1751.7L673.6,1739.7Z" fill="#00f"/>
<path d="M680.2,1617.3L693.2,1617.3L686.7,1605.3Z" fill="#00f"/>
<path d="M693.2,1644.9L706.2,1644.9L699.7,1632.9Z" fill="#00f"/>
<path d="M706.2,1671.6L719.2,1671.6L712.7,1659.6Z" fill="#00f"/>
<path d="M719.2,1732.1L732.2,1732.1L725.7,1720.1Z" fill="#00f"/>
<path d="M732.2,1780.1L745.2,1780.1L738.7,1768.1Z" fill="#00f"/>
<path d="M745.2,1811.3L758.2,1811.3L751.7,1799.3Z" fill="#00f"/>
<path d="M758.2,1743.6L771.2,1743.6L764.7,1731.6Z" fill="#00f"/>
<path d="M771.2,1729.2L784.2,1729.2L777.7,1717.2Z" fill="#00f"/>
<path d="M784.2,1729.2L797.2,1729.2L790.7,1717.2Z" fill="#00f"/>
<path d="M797.2,1785.5L810.2,1785.5L803.7,1773.5Z" fill="#00f"/>
<path d="M810.2,1650.2L823.2,1650.2L816.7,1638.2Z" fill="#00f"/>
<path d="M823.2,1682.2L836.2,1682.2L829.7,1670.2Z" fill="#00f"/>
<path d="M836.2,1708.9L849.2,1708.9L842.7,1696.9Z" fill="#00f"/>
<path d="M849.2,1765.9L862.2,1765.9L855.7,1753.9Z" fill="#00f"/>
<path d="M862.2,1815.7L875.2,1815.7L868.7,1803.7Z" fill="#00f"/>
<path d="M875.2,1894.1L888.2,1894.1L881.7,1882.1Z" fill="#00f"/>
<path d="M888.2,1860.2L901.2,1860.2L894.7,1848.2Z" fill="#00f"/>
<path d="M901.2,1870.9L914.2,1870.9L907.7,1858.9Z" fill="#00f"/>
<path d="M914.2,1863.8L927.2,1863.8L920.7,1851.8Z" fill="#00f"/>
<path d="M927.2,1917.2L940.2,1917.2L933.8,1905.2Z" fill="#00f"/>
<path d="M940.3,1794.4L953.3,1794.4L946.8,1782.4Z" fill="#00f"/>
<path d="M953.3,1819.3L966.3,1819.3L959.8,1807.3Z" fill="#00f"/>
<path d="M966.3,1776.6L979.3,1776.6L972.8,1764.6Z" fill="#00f"/>
<path d="M979.3,1895.8L992.3,1895.8L985.8,1883.8Z" fill="#00f"/>
<path d="M992.3,1942.1L1005.3,1942.1L998.8,1930.1Z" fill="#00f"/>
<path d="M1005.3,1929.7L1018.3,1929.7L1011.8,1917.7Z" fill="#00f"/>
<path d="M1018.3,1903L1031.3,1903L1024.8,1891Z" fill="#00f"/>
<path d="M1031.3,1894.1L1044.3,1894.1L1037.8,1882.1Z" fill="#00f"/>
<path d="M1044.3,1876.3L1057.3,1876.3L1050.8,1864.3Z" fill="#00f"/>
<path d="M1057.3,1933.2L1070.3,1933.2L1063.8,1921.2Z" fill="#00f"/>
<path d="M1070.3,1808.6L1083.3,1808.6L1076.8,1796.6Z" fill="#00f"/>
<path d="M1083.3,1838.9L1096.3,1838.9L1089.8,1826.9Z" fill="#00f"/>
<path d="M1096.3,1865.6L1109.3,1865.6L1102.8,1853.6Z" fill="#00f"/>
<path d="M1109.3,1914.5L1122.3,1914.5L1115.8,1902.5Z" fill="#00f"/>
<path d="M1122.3,1959.9L1135.3,1959.9L1128.8,1947.9Z" fill="#00f"/>
<path d="M1135.3,2019.5L1148.3,2019.5L1141.8,2007.5Z" fill="#00f"/>
<path d="M1148.3,1954.6L1161.3,1954.6L1154.8,1942.6Z" fill="#00f"/>
<path d="M1161.3,1947.5L1174.3,1947.5L1167.8,1935.5Z" fill="#00f"/>
<path d="M1174.3,1922.5L1187.3,1922.5L1180.8,1910.5Z" fill="#00f"/>
<path d="M1187.3,1979.5L1200.3,1979.5L1193.8,1967.5Z" fill="#00f"/>
<path d="M1200.4,1859.3L1213.4,1859.3L1206.9,1847.3Z" fill="#00f"/>
<line x1="219.5" y1="1191.6" x2="1325.6" y2="1191.6" stroke="#000" stroke-width="2.8"/>
<line x1="1324" y1="1191.6" x2="1324" y2="2081.5" stroke="#000" stroke-width="4"/>
<line x1="217.9" y1="2081.5" x2="1325.6" y2="2081.5" stroke="#000" stroke-width="3.2"/>
<line x1="219.5" y1="1190.0" x2="219.5" y2="2083.1" stroke="#000" stroke-width="3.2"/>
<line x1="283.5" y1="2081.5" x2="283.5" y2="2098.5" stroke="#000" stroke-width="3"/>
<text x="283.5" y="2140.5" font-size="36.5" text-anchor="middle" font-family="Liberation Serif, serif" font-weight="bold">1.35</text>
<line x1="348.5" y1="2081.5" x2="348.5" y2="2089.5" stroke="#000" stroke-width="3"/>
<line x1="413.5" y1="2081.5" x2="413.5" y2="2098.5" stroke="#000" stroke-width="3"/>
<text x="413.5" y="2140.5" font-size="36.5" text-anchor="middle" font-family="Liberation Serif, serif" font-weight="bold">1.40</text>
<line x1="478.6" y1="2081.5" x2="478.6" y2="2089.5" stroke="#000" stroke-width="3"/>
<line x1="543.6" y1="2081.5" x2="543.6" y2="2098.5" stroke="#000" stroke-width="3"/>
<text x="543.6" y="2140.5" font-size="36.5" text-anchor="middle" font-family="Liberation Serif, serif" font-weight="bold">1.45</text>
<line x1="608.6" y1="2081.5" x2="608.6" y2="2089.5" stroke="#000" stroke-width="3"/>
<line x1="673.6" y1="2081.5" x2="673.6" y2="2098.5" stroke="#000" stroke-width="3"/>
<text x="673.6" y="2140.5" font-size="36.5" text-anchor="middle" font-family="Liberation Serif, serif" font-weight="bold">1.50</text>
<line x1="738.7" y1="2081.5" x2="738.7" y2="2089.5" stroke="#000" stroke-width="3"/>
<line x1="803.7" y1="2081.5" x2="803.7" y2="2098.5" stroke="#000" stroke-width="3"/>
<text x="803.7" y="2140.5" font-size="36.5" text-anchor="middle" font-family="Liberation Serif, serif" font-weight="bold">1.55</text>
<line x1="868.7" y1="2081.5" x2="868.7" y2="2089.5" stroke="#000" stroke-width="3"/>
<line x1="933.7" y1="2081.5" x2="933.7" y2="2098.5" stroke="#000" stroke-width="3"/>
<text x="933.7" y="2140.5" font-size="36.5" text-anchor="middle" font-family="Liberation Serif, serif" font-weight="bold">1.60</text>
<line x1="998.8" y1="2081.5" x2="998.8" y2="2089.5" stroke="#000" stroke-width="3"/>
<line x1="1063.8" y1="2081.5" x2="1063.8" y2="2098.5" stroke="#000" stroke-width="3"/>
<text x="1063.8" y="2140.5" font-size="36.5" text-anchor="middle" font-family="Liberation Serif, serif" font-weight="bold">1.65</text>
<line x1="1128.8" y1="2081.5" x2="1128.8" y2="2089.5" stroke="#000" stroke-width="3"/>
<line x1="1193.8" y1="2081.5" x2="1193.8" y2="2098.5" stroke="#000" stroke-width="3"/>
<text x="1193.8" y="2140.5" font-size="36.5" text-anchor="middle" font-family="Liberation Serif, serif" font-weight="bold">1.70</text>
<line x1="1258.9" y1="2081.5" x2="1258.9" y2="2089.5" stroke="#000" stroke-width="3"/>
<line x1="1323.9" y1="2081.5" x2="1323.9" y2="2098.5" stroke="#000" stroke-width="3"/>
<text x="1323.9" y="2140.5" font-size="36.5" text-anchor="middle" font-family="Liberation Serif, serif" font-weight="bold">1.75</text>
<line x1="202.5" y1="2081.5" x2="219.5" y2="2081.5" stroke="#000" stroke-width="3"/>
<text x="188" y="2092.1" font-size="36.5" text-anchor="end" font-family="Liberation Serif, serif" font-weight="bold">50</text>
<line x1="211.5" y1="1992.5" x2="219.5" y2="1992.5" stroke="#000" stroke-width="3"/>
<line x1="202.5" y1="1903.5" x2="219.5" y2="1903.5" stroke="#000" stroke-width="3"/>
<text x="188" y="1914.1" font-size="36.5" text-anchor="end" font-family="Liberation Serif, serif" font-weight="bold">60</text>
<line x1="211.5" y1="1814.5" x2="219.5" y2="1814.5" stroke="#000" stroke-width="3"/>
<line x1="202.5" y1="1725.5" x2="219.5" y2="1725.5" stroke="#000" stroke-width="3"/>
<text x="188" y="1736.1" font-size="36.5" text-anchor="end" font-family="Liberation Serif, serif" font-weight="bold">70</text>
<line x1="211.5" y1="1636.5" x2="219.5" y2="1636.5" stroke="#000" stroke-width="3"/>
<line x1="202.5" y1="1547.5" x2="219.5" y2="1547.5" stroke="#000" stroke-width="3"/>
<text x="188" y="1558.1" font-size="36.5" text-anchor="end" font-family="Liberation Serif, serif" font-weight="bold">80</text>
<line x1="211.5" y1="1458.5" x2="219.5" y2="1458.5" stroke="#000" stroke-width="3"/>
<line x1="202.5" y1="1369.5" x2="219.5" y2="1369.5" stroke="#000" stroke-width="3"/>
<text x="188" y="1380.1" font-size="36.5" text-anchor="end" font-family="Liberation Serif, serif" font-weight="bold">90</text>
<line x1="211.5" y1="1280.5" x2="219.5" y2="1280.5" stroke="#000" stroke-width="3"/>
<line x1="202.5" y1="1191.5" x2="219.5" y2="1191.5" stroke="#000" stroke-width="3"/>
<text x="188" y="1202.1" font-size="36.5" text-anchor="end" font-family="Liberation Serif, serif" font-weight="bold">100</text>
<rect x="1109" y="1212.4" width="193" height="182.5999999999999" fill="#fff" stroke="none"/>
<rect x="1109" y="1212.4" width="193" height="182.5999999999999" fill="url(#dots)" stroke="#000" stroke-width="2.6"/>
<line x1="1113.3" y1="1245.7" x2="1219.4" y2="1245.7" fill="none" stroke="#000" stroke-width="2.4"/>
<rect x="1161.6999999999998" y="1240.8" width="9.8" height="9.8" fill="#000"/>
<text x="1231.6" y="1261.3" font-size="40" font-family="Liberation Serif, serif" font-weight="bold">no7</text>
<line x1="1113.3" y1="1304.7" x2="1219.4" y2="1304.7" fill="none" stroke="#f00" stroke-width="2.6" stroke-dasharray="6.5 5"/>
<circle cx="1166.6" cy="1304.7" r="5.2" fill="#f00"/>
<text x="1231.6" y="1319.7" font-size="40" font-family="Liberation Serif, serif" font-weight="bold">no8</text>
<line x1="1113.3" y1="1363.2" x2="1219.4" y2="1363.2" fill="none" stroke="#00f" stroke-width="2.8" stroke-dasharray="11 4.5 3 4.5"/>
<path d="M1160.1,1368.0L1173.1,1368.0L1166.6,1356.0Z" fill="#00f"/>
<text x="1231.6" y="1378.8" font-size="40" font-family="Liberation Serif, serif" font-weight="bold">no9</text>
<text transform="translate(115.2,2017.6) rotate(-90) scale(1,1)" font-size="41.6" font-family="Liberation Serif, serif" font-weight="bold" id="byl" xml:space="preserve">Max bending stress (<tspan font-size="44">σ</tspan><tspan font-size="28" dy="8" dx="1" font-style="italic">f</tspan><tspan dy="-8" dx="2">)</tspan><tspan font-size="28" dy="11" dx="3">max</tspan><tspan dy="-11" dx="2">  of pinion /MPa</tspan></text>
<text x="438" y="2191" font-size="41" font-family="Liberation Serif, serif" font-weight="bold" id="bcap" word-spacing="3.5">(b) Variation of σ<tspan font-size="25" dy="9" dx="3" font-family="Liberation Sans, sans-serif">F</tspan><tspan dy="-9" dx="3"> vs. step increment</tspan></text>
<rect x="60" y="2288" width="1290" height="977" fill="url(#dots)"/>
<line x1="290.8" y1="2299" x2="290.8" y2="3146" stroke="#c6c6c6" stroke-width="1.8"/>
<line x1="420.3" y1="2299" x2="420.3" y2="3146" stroke="#c6c6c6" stroke-width="1.8"/>
<line x1="549.8" y1="2299" x2="549.8" y2="3146" stroke="#c6c6c6" stroke-width="1.8"/>
<line x1="679.3" y1="2299" x2="679.3" y2="3146" stroke="#d2ced6" stroke-width="1.8"/>
<line x1="808.8" y1="2299" x2="808.8" y2="3146" stroke="#c6c6c6" stroke-width="1.8"/>
<line x1="938.3" y1="2299" x2="938.3" y2="3146" stroke="#e4e2ec" stroke-width="1.8"/>
<line x1="1067.8" y1="2299" x2="1067.8" y2="3146" stroke="#c6c6c6" stroke-width="1.8"/>
<line x1="1197.3" y1="2299" x2="1197.3" y2="3146" stroke="#c6c6c6" stroke-width="1.8"/>
<line x1="226" y1="3080.9" x2="1327" y2="3080.9" stroke="#dfdade" stroke-width="1.8"/>
<line x1="226" y1="3015.8" x2="1327" y2="3015.8" stroke="#c6c6c6" stroke-width="1.8"/>
<line x1="226" y1="2950.6" x2="1327" y2="2950.6" stroke="#d0ccd2" stroke-width="1.8"/>
<line x1="226" y1="2885.5" x2="1327" y2="2885.5" stroke="#d0ccd2" stroke-width="1.8"/>
<line x1="226" y1="2820.4" x2="1327" y2="2820.4" stroke="#c6c6c6" stroke-width="1.8"/>
<line x1="226" y1="2755.3" x2="1327" y2="2755.3" stroke="#c6c6c6" stroke-width="1.8"/>
<line x1="226" y1="2690.2" x2="1327" y2="2690.2" stroke="#c6c6c6" stroke-width="1.8"/>
<line x1="226" y1="2625" x2="1327" y2="2625" stroke="#c6c6c6" stroke-width="1.8"/>
<line x1="226" y1="2559.9" x2="1327" y2="2559.9" stroke="#c6c6c6" stroke-width="1.8"/>
<line x1="226" y1="2494.8" x2="1327" y2="2494.8" stroke="#c6c6c6" stroke-width="1.8"/>
<line x1="226" y1="2429.7" x2="1327" y2="2429.7" stroke="#c6c6c6" stroke-width="1.8"/>
<line x1="226" y1="2364.6" x2="1327" y2="2364.6" stroke="#c6c6c6" stroke-width="1.8"/>
<polyline fill="none" stroke-linejoin="round" points="290.8,2377.9 303.7,2635.1 316.7,2407.9 329.6,2498.2 342.6,2441.6 355.5,2424.8 368.5,2481.5 381.4,2475.3 394.4,2508.1 407.3,2344.4 420.3,2412.4 433.2,2661.8 446.2,2442.4 459.1,2521.5 472.1,2475.3 485,2458 498,2485.4 510.9,2489.6 523.9,2516.3 536.8,2412.4 549.8,2482.1 562.8,2699.9 575.7,2513 588.6,2572.6 601.6,2542.3 614.5,2528 627.5,2545.6 640.5,2562.2 653.4,2578.8 666.4,2453.8 679.3,2514.3 692.2,2730.9 705.2,2550.8 718.2,2608.6 731.1,2584 744.1,2569.7 757,2584.3 770,2603.9 782.9,2602.2 795.9,2500.7 808.8,2547.9 821.8,2776.8 834.7,2586 847.7,2633.2 860.6,2621.5 873.6,2607.8 886.5,2623.7 899.5,2644.9 912.4,2644.9" stroke="#2a2a2a" stroke-width="2.5"/>
<rect x="285.6" y="2372.7" width="10.5" height="10.5" fill="#000"/>
<rect x="298.5" y="2629.9" width="10.5" height="10.5" fill="#000"/>
<rect x="311.5" y="2402.6" width="10.5" height="10.5" fill="#000"/>
<rect x="324.4" y="2493" width="10.5" height="10.5" fill="#000"/>
<rect x="337.4" y="2436.3" width="10.5" height="10.5" fill="#000"/>
<rect x="350.3" y="2419.5" width="10.5" height="10.5" fill="#000"/>
<rect x="363.3" y="2476.2" width="10.5" height="10.5" fill="#000"/>
<rect x="376.2" y="2470" width="10.5" height="10.5" fill="#000"/>
<rect x="389.2" y="2502.9" width="10.5" height="10.5" fill="#000"/>
<rect x="402.1" y="2339.1" width="10.5" height="10.5" fill="#000"/>
<rect x="415.1" y="2407.2" width="10.5" height="10.5" fill="#000"/>
<rect x="428" y="2656.6" width="10.5" height="10.5" fill="#000"/>
<rect x="441" y="2437.1" width="10.5" height="10.5" fill="#000"/>
<rect x="453.9" y="2516.2" width="10.5" height="10.5" fill="#000"/>
<rect x="466.9" y="2470" width="10.5" height="10.5" fill="#000"/>
<rect x="479.8" y="2452.8" width="10.5" height="10.5" fill="#000"/>
<rect x="492.8" y="2480.1" width="10.5" height="10.5" fill="#000"/>
<rect x="505.7" y="2484.3" width="10.5" height="10.5" fill="#000"/>
<rect x="518.7" y="2511" width="10.5" height="10.5" fill="#000"/>
<rect x="531.6" y="2407.2" width="10.5" height="10.5" fill="#000"/>
<rect x="544.6" y="2476.9" width="10.5" height="10.5" fill="#000"/>
<rect x="557.5" y="2694.7" width="10.5" height="10.5" fill="#000"/>
<rect x="570.5" y="2507.8" width="10.5" height="10.5" fill="#000"/>
<rect x="583.4" y="2567.4" width="10.5" height="10.5" fill="#000"/>
<rect x="596.4" y="2537.1" width="10.5" height="10.5" fill="#000"/>
<rect x="609.3" y="2522.8" width="10.5" height="10.5" fill="#000"/>
<rect x="622.2" y="2540.3" width="10.5" height="10.5" fill="#000"/>
<rect x="635.2" y="2556.9" width="10.5" height="10.5" fill="#000"/>
<rect x="648.2" y="2573.6" width="10.5" height="10.5" fill="#000"/>
<rect x="661.1" y="2448.5" width="10.5" height="10.5" fill="#000"/>
<rect x="674" y="2509.1" width="10.5" height="10.5" fill="#000"/>
<rect x="687" y="2725.6" width="10.5" height="10.5" fill="#000"/>
<rect x="699.9" y="2545.6" width="10.5" height="10.5" fill="#000"/>
<rect x="712.9" y="2603.3" width="10.5" height="10.5" fill="#000"/>
<rect x="725.8" y="2578.8" width="10.5" height="10.5" fill="#000"/>
<rect x="738.8" y="2564.4" width="10.5" height="10.5" fill="#000"/>
<rect x="751.7" y="2579.1" width="10.5" height="10.5" fill="#000"/>
<rect x="764.7" y="2598.6" width="10.5" height="10.5" fill="#000"/>
<rect x="777.6" y="2597" width="10.5" height="10.5" fill="#000"/>
<rect x="790.6" y="2495.4" width="10.5" height="10.5" fill="#000"/>
<rect x="803.5" y="2542.6" width="10.5" height="10.5" fill="#000"/>
<rect x="816.5" y="2771.5" width="10.5" height="10.5" fill="#000"/>
<rect x="829.4" y="2580.7" width="10.5" height="10.5" fill="#000"/>
<rect x="842.4" y="2627.9" width="10.5" height="10.5" fill="#000"/>
<rect x="855.3" y="2616.2" width="10.5" height="10.5" fill="#000"/>
<rect x="868.3" y="2602.5" width="10.5" height="10.5" fill="#000"/>
<rect x="881.2" y="2618.5" width="10.5" height="10.5" fill="#000"/>
<rect x="894.2" y="2639.7" width="10.5" height="10.5" fill="#000"/>
<rect x="907.2" y="2639.7" width="10.5" height="10.5" fill="#000"/>
<polyline fill="none" stroke-linejoin="round" points="290.8,2857.2 303.7,2882.6 316.7,2854.3 329.6,2875.4 342.6,2858 355.5,2844.5 368.5,2864.4 381.4,2841.9 394.4,2833.4 407.3,2788.5 420.3,2876.7 433.2,2904.7 446.2,2876.7 459.1,2896.9 472.1,2889.1 485,2880 498,2887.1 510.9,2869.6 523.9,2861.1 536.8,2826.3 549.8,2909.3 562.8,2927.2 575.7,2907.3 588.6,2912.5 601.6,2912.5 614.5,2911.2 627.5,2928.5 640.5,2888.5 653.4,2897.6 666.4,2855.6 679.3,2932.4 692.2,2954.9 705.2,2930.1 718.2,2951 731.1,2944.9 744.1,2934.7 757,2952.6 770,2926.9 782.9,2924.3 795.9,2882.6 808.8,2954.9 821.8,2972.1 834.7,2951.9 847.7,2972.1 860.6,2968.2 873.6,2929.5 886.5,2947.4 899.5,2951.9 912.4,2920.7 925.4,2878.7 938.3,2947.4 951.2,2974.7 964.2,2951 977.2,2972.1" stroke="#ff2a2a" stroke-width="2.6" stroke-dasharray="5.5 5"/>
<circle cx="290.8" cy="2857.2" r="5.4" fill="#f00"/>
<circle cx="303.7" cy="2882.6" r="5.4" fill="#f00"/>
<circle cx="316.7" cy="2854.3" r="5.4" fill="#f00"/>
<circle cx="329.6" cy="2875.4" r="5.4" fill="#f00"/>
<circle cx="342.6" cy="2858" r="5.4" fill="#f00"/>
<circle cx="355.5" cy="2844.5" r="5.4" fill="#f00"/>
<circle cx="368.5" cy="2864.4" r="5.4" fill="#f00"/>
<circle cx="381.4" cy="2841.9" r="5.4" fill="#f00"/>
<circle cx="394.4" cy="2833.4" r="5.4" fill="#f00"/>
<circle cx="407.3" cy="2788.5" r="5.4" fill="#f00"/>
<circle cx="420.3" cy="2876.7" r="5.4" fill="#f00"/>
<circle cx="433.2" cy="2904.7" r="5.4" fill="#f00"/>
<circle cx="446.2" cy="2876.7" r="5.4" fill="#f00"/>
<circle cx="459.1" cy="2896.9" r="5.4" fill="#f00"/>
<circle cx="472.1" cy="2889.1" r="5.4" fill="#f00"/>
<circle cx="485" cy="2880" r="5.4" fill="#f00"/>
<circle cx="498" cy="2887.1" r="5.4" fill="#f00"/>
<circle cx="510.9" cy="2869.6" r="5.4" fill="#f00"/>
<circle cx="523.9" cy="2861.1" r="5.4" fill="#f00"/>
<circle cx="536.8" cy="2826.3" r="5.4" fill="#f00"/>
<circle cx="549.8" cy="2909.3" r="5.4" fill="#f00"/>
<circle cx="562.8" cy="2927.2" r="5.4" fill="#f00"/>
<circle cx="575.7" cy="2907.3" r="5.4" fill="#f00"/>
<circle cx="588.6" cy="2912.5" r="5.4" fill="#f00"/>
<circle cx="601.6" cy="2912.5" r="5.4" fill="#f00"/>
<circle cx="614.5" cy="2911.2" r="5.4" fill="#f00"/>
<circle cx="627.5" cy="2928.5" r="5.4" fill="#f00"/>
<circle cx="640.5" cy="2888.5" r="5.4" fill="#f00"/>
<circle cx="653.4" cy="2897.6" r="5.4" fill="#f00"/>
<circle cx="666.4" cy="2855.6" r="5.4" fill="#f00"/>
<circle cx="679.3" cy="2932.4" r="5.4" fill="#f00"/>
<circle cx="692.2" cy="2954.9" r="5.4" fill="#f00"/>
<circle cx="705.2" cy="2930.1" r="5.4" fill="#f00"/>
<circle cx="718.2" cy="2951" r="5.4" fill="#f00"/>
<circle cx="731.1" cy="2944.9" r="5.4" fill="#f00"/>
<circle cx="744.1" cy="2934.7" r="5.4" fill="#f00"/>
<circle cx="757" cy="2952.6" r="5.4" fill="#f00"/>
<circle cx="770" cy="2926.9" r="5.4" fill="#f00"/>
<circle cx="782.9" cy="2924.3" r="5.4" fill="#f00"/>
<circle cx="795.9" cy="2882.6" r="5.4" fill="#f00"/>
<circle cx="808.8" cy="2954.9" r="5.4" fill="#f00"/>
<circle cx="821.8" cy="2972.1" r="5.4" fill="#f00"/>
<circle cx="834.7" cy="2951.9" r="5.4" fill="#f00"/>
<circle cx="847.7" cy="2972.1" r="5.4" fill="#f00"/>
<circle cx="860.6" cy="2968.2" r="5.4" fill="#f00"/>
<circle cx="873.6" cy="2929.5" r="5.4" fill="#f00"/>
<circle cx="886.5" cy="2947.4" r="5.4" fill="#f00"/>
<circle cx="899.5" cy="2951.9" r="5.4" fill="#f00"/>
<circle cx="912.4" cy="2920.7" r="5.4" fill="#f00"/>
<circle cx="925.4" cy="2878.7" r="5.4" fill="#f00"/>
<circle cx="938.3" cy="2947.4" r="5.4" fill="#f00"/>
<circle cx="951.2" cy="2974.7" r="5.4" fill="#f00"/>
<circle cx="964.2" cy="2951" r="5.4" fill="#f00"/>
<circle cx="977.2" cy="2972.1" r="5.4" fill="#f00"/>
<polyline fill="none" stroke-linejoin="round" points="407.3,2956.5 420.3,2978.6 433.2,2935.3 446.2,2922 459.1,2863.1 472.1,2970.8 485,2959.1 498,2939.7 510.9,2972.1 523.9,2974.7 536.8,2962.4 549.8,2985.2 562.8,2962.4 575.7,2932.1 588.6,2870.2 601.6,2981.2 614.5,2966.9 627.5,2950 640.5,2983.9 653.4,2996.9 666.4,2994.3 679.3,3017.7 692.2,2981.2 705.2,2965 718.2,2908.6 731.1,3017.7 744,3003.4 757,2986.5 770,3019 782.9,3016.4 795.8,3017.1 808.8,3039.5 821.7,2998.2 834.7,2987.8 847.6,2930.8 860.6,3040.8 873.5,3025.2 886.5,3009.9 899.4,3029.1 912.4,3027.8 925.3,3029.1 938.3,3064.3 951.2,3008.6 964.2,3015.1 977.1,2959.1 990.1,3067.5 1003,3055.2 1016,3038.2 1028.9,3049.9 1041.9,3049.9 1054.8,3045.1 1067.8,3085.1 1080.7,3025.9 1093.7,3036.9 1106.6,2985.2 1119.6,3085.1 1132.5,3077.3 1145.5,3063 1158.4,3068.7 1171.4,3068.7 1184.3,3062.3 1197.3,3113.4 1210.2,3042.8" stroke="#00f" stroke-width="3.2" stroke-dasharray="11 4.5 3 4.5"/>
<path d="M400.6,2961.5L414.1,2961.5L407.3,2949Z" fill="#00f"/>
<path d="M413.5,2983.6L427,2983.6L420.3,2971.1Z" fill="#00f"/>
<path d="M426.5,2940.3L440,2940.3L433.2,2927.8Z" fill="#00f"/>
<path d="M439.4,2927L452.9,2927L446.2,2914.5Z" fill="#00f"/>
<path d="M452.4,2868.1L465.9,2868.1L459.1,2855.6Z" fill="#00f"/>
<path d="M465.3,2975.8L478.8,2975.8L472.1,2963.3Z" fill="#00f"/>
<path d="M478.3,2964.1L491.8,2964.1L485,2951.6Z" fill="#00f"/>
<path d="M491.2,2944.7L504.7,2944.7L498,2932.2Z" fill="#00f"/>
<path d="M504.2,2977.1L517.7,2977.1L510.9,2964.6Z" fill="#00f"/>
<path d="M517.1,2979.7L530.6,2979.7L523.9,2967.2Z" fill="#00f"/>
<path d="M530.1,2967.4L543.6,2967.4L536.8,2954.9Z" fill="#00f"/>
<path d="M543,2990.2L556.5,2990.2L549.8,2977.7Z" fill="#00f"/>
<path d="M556,2967.4L569.5,2967.4L562.8,2954.9Z" fill="#00f"/>
<path d="M568.9,2937.1L582.4,2937.1L575.7,2924.6Z" fill="#00f"/>
<path d="M581.9,2875.2L595.4,2875.2L588.6,2862.7Z" fill="#00f"/>
<path d="M594.8,2986.2L608.3,2986.2L601.6,2973.7Z" fill="#00f"/>
<path d="M607.8,2971.9L621.3,2971.9L614.5,2959.4Z" fill="#00f"/>
<path d="M620.7,2955L634.2,2955L627.5,2942.5Z" fill="#00f"/>
<path d="M633.7,2988.9L647.2,2988.9L640.5,2976.4Z" fill="#00f"/>
<path d="M646.6,3001.9L660.1,3001.9L653.4,2989.4Z" fill="#00f"/>
<path d="M659.6,2999.3L673.1,2999.3L666.4,2986.8Z" fill="#00f"/>
<path d="M672.5,3022.7L686,3022.7L679.3,3010.2Z" fill="#00f"/>
<path d="M685.5,2986.2L699,2986.2L692.2,2973.7Z" fill="#00f"/>
<path d="M698.4,2970L711.9,2970L705.2,2957.5Z" fill="#00f"/>
<path d="M711.4,2913.6L724.9,2913.6L718.2,2901.1Z" fill="#00f"/>
<path d="M724.3,3022.7L737.8,3022.7L731.1,3010.2Z" fill="#00f"/>
<path d="M737.3,3008.4L750.8,3008.4L744,2995.9Z" fill="#00f"/>
<path d="M750.2,2991.5L763.7,2991.5L757,2979Z" fill="#00f"/>
<path d="M763.2,3024L776.7,3024L770,3011.5Z" fill="#00f"/>
<path d="M776.1,3021.4L789.6,3021.4L782.9,3008.9Z" fill="#00f"/>
<path d="M789.1,3022.1L802.6,3022.1L795.8,3009.6Z" fill="#00f"/>
<path d="M802,3044.5L815.5,3044.5L808.8,3032Z" fill="#00f"/>
<path d="M815,3003.2L828.5,3003.2L821.7,2990.7Z" fill="#00f"/>
<path d="M827.9,2992.8L841.4,2992.8L834.7,2980.3Z" fill="#00f"/>
<path d="M840.9,2935.8L854.4,2935.8L847.6,2923.3Z" fill="#00f"/>
<path d="M853.8,3045.8L867.3,3045.8L860.6,3033.3Z" fill="#00f"/>
<path d="M866.8,3030.2L880.3,3030.2L873.5,3017.7Z" fill="#00f"/>
<path d="M879.8,3014.9L893.2,3014.9L886.5,3002.4Z" fill="#00f"/>
<path d="M892.7,3034.1L906.2,3034.1L899.4,3021.6Z" fill="#00f"/>
<path d="M905.7,3032.8L919.2,3032.8L912.4,3020.3Z" fill="#00f"/>
<path d="M918.6,3034.1L932.1,3034.1L925.3,3021.6Z" fill="#00f"/>
<path d="M931.5,3069.3L945,3069.3L938.3,3056.8Z" fill="#00f"/>
<path d="M944.5,3013.6L958,3013.6L951.2,3001.1Z" fill="#00f"/>
<path d="M957.5,3020.1L971,3020.1L964.2,3007.6Z" fill="#00f"/>
<path d="M970.4,2964.1L983.9,2964.1L977.1,2951.6Z" fill="#00f"/>
<path d="M983.4,3072.5L996.9,3072.5L990.1,3060Z" fill="#00f"/>
<path d="M996.3,3060.2L1009.8,3060.2L1003,3047.7Z" fill="#00f"/>
<path d="M1009.2,3043.2L1022.8,3043.2L1016,3030.7Z" fill="#00f"/>
<path d="M1022.2,3054.9L1035.7,3054.9L1028.9,3042.4Z" fill="#00f"/>
<path d="M1035.2,3054.9L1048.7,3054.9L1041.9,3042.4Z" fill="#00f"/>
<path d="M1048.1,3050.1L1061.6,3050.1L1054.8,3037.6Z" fill="#00f"/>
<path d="M1061,3090.1L1074.5,3090.1L1067.8,3077.6Z" fill="#00f"/>
<path d="M1074,3030.9L1087.5,3030.9L1080.7,3018.4Z" fill="#00f"/>
<path d="M1087,3041.9L1100.5,3041.9L1093.7,3029.4Z" fill="#00f"/>
<path d="M1099.9,2990.2L1113.4,2990.2L1106.6,2977.7Z" fill="#00f"/>
<path d="M1112.8,3090.1L1126.3,3090.1L1119.6,3077.6Z" fill="#00f"/>
<path d="M1125.8,3082.3L1139.3,3082.3L1132.5,3069.8Z" fill="#00f"/>
<path d="M1138.8,3068L1152.3,3068L1145.5,3055.5Z" fill="#00f"/>
<path d="M1151.7,3073.7L1165.2,3073.7L1158.4,3061.2Z" fill="#00f"/>
<path d="M1164.6,3073.7L1178.1,3073.7L1171.4,3061.2Z" fill="#00f"/>
<path d="M1177.6,3067.3L1191.1,3067.3L1184.3,3054.8Z" fill="#00f"/>
<path d="M1190.5,3118.4L1204,3118.4L1197.3,3105.9Z" fill="#00f"/>
<path d="M1203.5,3047.8L1217,3047.8L1210.2,3035.3Z" fill="#00f"/>
<line x1="226" y1="2299" x2="1328.6" y2="2299" stroke="#000" stroke-width="3.2"/>
<line x1="1327" y1="2299" x2="1327" y2="3146" stroke="#000" stroke-width="3.2"/>
<line x1="224.4" y1="3146" x2="1328.6" y2="3146" stroke="#555" stroke-width="2.6"/>
<line x1="226" y1="2297.4" x2="226" y2="3147.6" stroke="#000" stroke-width="3.2"/>
<line x1="226" y1="3146" x2="226" y2="3154" stroke="#000" stroke-width="3"/>
<line x1="290.8" y1="3146" x2="290.8" y2="3163" stroke="#000" stroke-width="3"/>
<text x="290.8" y="3201.5" font-size="37" text-anchor="middle" font-family="Liberation Serif, serif" font-weight="bold">1.35</text>
<line x1="355.5" y1="3146" x2="355.5" y2="3154" stroke="#000" stroke-width="3"/>
<line x1="420.3" y1="3146" x2="420.3" y2="3163" stroke="#000" stroke-width="3"/>
<text x="420.3" y="3201.5" font-size="37" text-anchor="middle" font-family="Liberation Serif, serif" font-weight="bold">1.40</text>
<line x1="485" y1="3146" x2="485" y2="3154" stroke="#000" stroke-width="3"/>
<line x1="549.8" y1="3146" x2="549.8" y2="3163" stroke="#000" stroke-width="3"/>
<text x="549.8" y="3201.5" font-size="37" text-anchor="middle" font-family="Liberation Serif, serif" font-weight="bold">1.45</text>
<line x1="614.5" y1="3146" x2="614.5" y2="3154" stroke="#000" stroke-width="3"/>
<line x1="679.3" y1="3146" x2="679.3" y2="3163" stroke="#000" stroke-width="3"/>
<text x="679.3" y="3201.5" font-size="37" text-anchor="middle" font-family="Liberation Serif, serif" font-weight="bold">1.50</text>
<line x1="744" y1="3146" x2="744" y2="3154" stroke="#000" stroke-width="3"/>
<line x1="808.8" y1="3146" x2="808.8" y2="3163" stroke="#000" stroke-width="3"/>
<text x="808.8" y="3201.5" font-size="37" text-anchor="middle" font-family="Liberation Serif, serif" font-weight="bold">1.55</text>
<line x1="873.5" y1="3146" x2="873.5" y2="3154" stroke="#000" stroke-width="3"/>
<line x1="938.3" y1="3146" x2="938.3" y2="3163" stroke="#000" stroke-width="3"/>
<text x="938.3" y="3201.5" font-size="37" text-anchor="middle" font-family="Liberation Serif, serif" font-weight="bold">1.60</text>
<line x1="1003" y1="3146" x2="1003" y2="3154" stroke="#000" stroke-width="3"/>
<line x1="1067.8" y1="3146" x2="1067.8" y2="3163" stroke="#000" stroke-width="3"/>
<text x="1067.8" y="3201.5" font-size="37" text-anchor="middle" font-family="Liberation Serif, serif" font-weight="bold">1.65</text>
<line x1="1132.5" y1="3146" x2="1132.5" y2="3154" stroke="#000" stroke-width="3"/>
<line x1="1197.3" y1="3146" x2="1197.3" y2="3163" stroke="#000" stroke-width="3"/>
<text x="1197.3" y="3201.5" font-size="37" text-anchor="middle" font-family="Liberation Serif, serif" font-weight="bold">1.70</text>
<line x1="1262" y1="3146" x2="1262" y2="3154" stroke="#000" stroke-width="3"/>
<line x1="1326.8" y1="3146" x2="1326.8" y2="3163" stroke="#000" stroke-width="3"/>
<text x="1326.8" y="3201.5" font-size="37" text-anchor="middle" font-family="Liberation Serif, serif" font-weight="bold">1.75</text>
<line x1="209" y1="3146" x2="226" y2="3146" stroke="#000" stroke-width="3"/>
<text x="195" y="3156.2" font-size="37" text-anchor="end" font-family="Liberation Serif, serif" font-weight="bold">120</text>
<line x1="218" y1="3113.4" x2="226" y2="3113.4" stroke="#000" stroke-width="3"/>
<line x1="209" y1="3080.9" x2="226" y2="3080.9" stroke="#000" stroke-width="3"/>
<text x="195" y="3091.1" font-size="37" text-anchor="end" font-family="Liberation Serif, serif" font-weight="bold">140</text>
<line x1="218" y1="3048.3" x2="226" y2="3048.3" stroke="#000" stroke-width="3"/>
<line x1="209" y1="3015.8" x2="226" y2="3015.8" stroke="#000" stroke-width="3"/>
<text x="195" y="3025.9" font-size="37" text-anchor="end" font-family="Liberation Serif, serif" font-weight="bold">160</text>
<line x1="218" y1="2983.2" x2="226" y2="2983.2" stroke="#000" stroke-width="3"/>
<line x1="209" y1="2950.6" x2="226" y2="2950.6" stroke="#000" stroke-width="3"/>
<text x="195" y="2960.8" font-size="37" text-anchor="end" font-family="Liberation Serif, serif" font-weight="bold">180</text>
<line x1="218" y1="2918.1" x2="226" y2="2918.1" stroke="#000" stroke-width="3"/>
<line x1="209" y1="2885.5" x2="226" y2="2885.5" stroke="#000" stroke-width="3"/>
<text x="195" y="2895.7" font-size="37" text-anchor="end" font-family="Liberation Serif, serif" font-weight="bold">200</text>
<line x1="218" y1="2853" x2="226" y2="2853" stroke="#000" stroke-width="3"/>
<line x1="209" y1="2820.4" x2="226" y2="2820.4" stroke="#000" stroke-width="3"/>
<text x="195" y="2830.6" font-size="37" text-anchor="end" font-family="Liberation Serif, serif" font-weight="bold">220</text>
<line x1="218" y1="2787.8" x2="226" y2="2787.8" stroke="#000" stroke-width="3"/>
<line x1="209" y1="2755.3" x2="226" y2="2755.3" stroke="#000" stroke-width="3"/>
<text x="195" y="2765.5" font-size="37" text-anchor="end" font-family="Liberation Serif, serif" font-weight="bold">240</text>
<line x1="218" y1="2722.7" x2="226" y2="2722.7" stroke="#000" stroke-width="3"/>
<line x1="209" y1="2690.2" x2="226" y2="2690.2" stroke="#000" stroke-width="3"/>
<text x="195" y="2700.3" font-size="37" text-anchor="end" font-family="Liberation Serif, serif" font-weight="bold">260</text>
<line x1="218" y1="2657.6" x2="226" y2="2657.6" stroke="#000" stroke-width="3"/>
<line x1="209" y1="2625" x2="226" y2="2625" stroke="#000" stroke-width="3"/>
<text x="195" y="2635.2" font-size="37" text-anchor="end" font-family="Liberation Serif, serif" font-weight="bold">280</text>
<line x1="218" y1="2592.5" x2="226" y2="2592.5" stroke="#000" stroke-width="3"/>
<line x1="209" y1="2559.9" x2="226" y2="2559.9" stroke="#000" stroke-width="3"/>
<text x="195" y="2570.1" font-size="37" text-anchor="end" font-family="Liberation Serif, serif" font-weight="bold">300</text>
<line x1="218" y1="2527.4" x2="226" y2="2527.4" stroke="#000" stroke-width="3"/>
<line x1="209" y1="2494.8" x2="226" y2="2494.8" stroke="#000" stroke-width="3"/>
<text x="195" y="2505" font-size="37" text-anchor="end" font-family="Liberation Serif, serif" font-weight="bold">320</text>
<line x1="218" y1="2462.2" x2="226" y2="2462.2" stroke="#000" stroke-width="3"/>
<line x1="209" y1="2429.7" x2="226" y2="2429.7" stroke="#000" stroke-width="3"/>
<text x="195" y="2439.9" font-size="37" text-anchor="end" font-family="Liberation Serif, serif" font-weight="bold">340</text>
<line x1="218" y1="2397.1" x2="226" y2="2397.1" stroke="#000" stroke-width="3"/>
<line x1="209" y1="2364.6" x2="226" y2="2364.6" stroke="#000" stroke-width="3"/>
<text x="195" y="2374.7" font-size="37" text-anchor="end" font-family="Liberation Serif, serif" font-weight="bold">360</text>
<line x1="218" y1="2332" x2="226" y2="2332" stroke="#000" stroke-width="3"/>
<line x1="209" y1="2299.4" x2="226" y2="2299.4" stroke="#000" stroke-width="3"/>
<text x="195" y="2309.6" font-size="37" text-anchor="end" font-family="Liberation Serif, serif" font-weight="bold">380</text>
<rect x="1116.2" y="2316.7" width="190.79999999999995" height="173.30000000000018" fill="#fff" stroke="none"/>
<rect x="1116.2" y="2316.7" width="190.79999999999995" height="173.30000000000018" fill="url(#dots)" stroke="#000" stroke-width="2.6"/>
<line x1="1122.7" y1="2348.9" x2="1227.7" y2="2348.9" fill="none" stroke="#444" stroke-width="2.6"/>
<rect x="1169.15" y="2343.65" width="10.5" height="10.5" fill="#000"/>
<text x="1238.9" y="2362.7" font-size="40" font-family="Liberation Serif, serif" font-weight="bold">no7</text>
<line x1="1122.7" y1="2404.3" x2="1227.7" y2="2404.3" fill="none" stroke="#ff7070" stroke-width="2.2" stroke-dasharray="6.5 5"/>
<circle cx="1174.4" cy="2404.3" r="5.4" fill="#f00"/>
<text x="1238.9" y="2418.6" font-size="40" font-family="Liberation Serif, serif" font-weight="bold">no8</text>
<line x1="1122.7" y1="2460.2" x2="1227.7" y2="2460.2" fill="none" stroke="#00f" stroke-width="3" stroke-dasharray="11 4.5 3 4.5"/>
<path d="M1167.65,2465.2L1181.15,2465.2L1174.4,2452.7Z" fill="#00f"/>
<text x="1238.9" y="2474.5" font-size="40" font-family="Liberation Serif, serif" font-weight="bold">no9</text>
<text transform="translate(113.3,2992.6) rotate(-90) scale(0.928,1)" font-size="42.6" font-family="Liberation Serif, serif" font-weight="bold" id="cyl" xml:space="preserve">Max contact stress (<tspan font-size="46">σ</tspan><tspan font-size="28" dy="8">h</tspan><tspan dy="-8" dx="2">)</tspan><tspan font-size="28" dy="11" dx="2">max</tspan><tspan dy="-11"> /MPa</tspan></text>
<text x="444.3" y="3247" font-size="40.7" font-family="Liberation Serif, serif" font-weight="bold" id="ccap" word-spacing="3.5">(c) Variation of σ<tspan font-size="25" dy="9" dx="3" font-family="Liberation Sans, sans-serif">H</tspan><tspan dy="-9" dx="3"> vs. step increment</tspan></text>
</svg></body></html>
